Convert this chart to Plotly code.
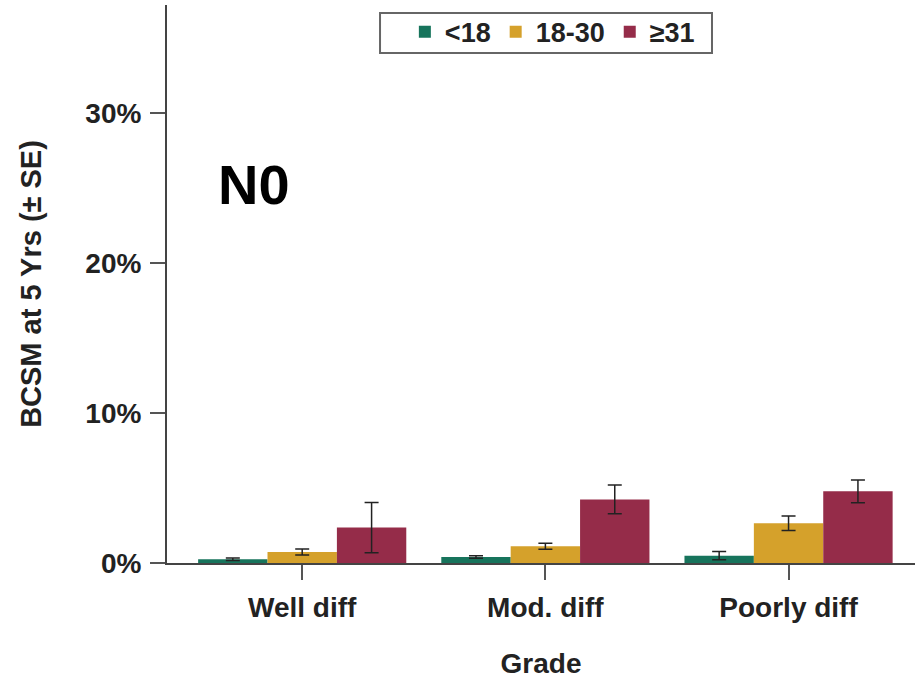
import plotly.graph_objects as go

# Breast-cancer-specific mortality at 5 years, node-negative (N0), by grade and age group
grades = ["Well diff", "Mod. diff", "Poorly diff"]
groups = ["&lt;18", "18-30", "≥31"]
colors = ["#17745c", "#d5a12b", "#952c49"]

bcsm_lt18 = [0.25, 0.40, 0.49]
bcsm_18_30 = [0.74, 1.11, 2.65]
bcsm_ge31 = [2.36, 4.24, 4.78]

se_lt18 = [0.08, 0.09, 0.27]
se_18_30 = [0.20, 0.20, 0.48]
se_ge31 = [1.67, 0.96, 0.76]

values = [bcsm_lt18, bcsm_18_30, bcsm_ge31]
errors = [se_lt18, se_18_30, se_ge31]

FONT = "Liberation Sans, Arial, sans-serif"
INK = "#222222"

fig = go.Figure()
for name, col, vals, errs in zip(groups, colors, values, errors):
    fig.add_trace(go.Bar(
        x=grades, y=vals, name=name,
        marker=dict(color=col, line=dict(width=0)),
        error_y=dict(type="data", array=errs, visible=True,
                     color=INK, thickness=1.5, width=7),
    ))

fig.update_layout(
    width=915, height=681,
    margin=dict(l=167, r=0, t=5, b=118),
    paper_bgcolor="white", plot_bgcolor="white",
    barmode="group", bargap=0.144, bargroupgap=0,
    font=dict(family=FONT, color=INK, weight="bold"),
    showlegend=True,
    legend=dict(
        orientation="h", x=0.318, y=0.995, xanchor="left", yanchor="top",
        borderwidth=0, bgcolor="rgba(0,0,0,0)",
        font=dict(size=27, family=FONT, color=INK, weight="bold"),
        itemwidth=30, traceorder="normal",
    ),
    xaxis=dict(
        range=[-0.556, 2.52],
        showline=True, linecolor="#444444", linewidth=2,
        ticks="outside", ticklen=15, tickwidth=2, tickcolor="#555555",
        ticklabelstandoff=3,
        tickfont=dict(size=28, family=FONT, color=INK, weight="bold"),
        title=dict(text="Grade", standoff=32,
                   font=dict(size=28, family=FONT, color=INK, weight="bold")),
        showgrid=False, zeroline=False,
    ),
    yaxis=dict(
        range=[0, 37.2],
        tickvals=[0, 10, 20, 30], ticktext=["0%", "10%", "20%", "30%"],
        showline=True, linecolor="#444444", linewidth=2,
        ticks="outside", ticklen=15, tickwidth=1.5, tickcolor="#555555",
        ticklabelstandoff=3,
        tickfont=dict(size=28, family=FONT, color=INK, weight="bold"),
        title=dict(text="BCSM at 5 Yrs (± SE)", standoff=35,
                   font=dict(size=29, family=FONT, color=INK, weight="bold")),
        showgrid=False, zeroline=False,
    ),
    shapes=[dict(
        type="rect", xref="paper", yref="paper",
        x0=0.2848, x1=0.7286, y0=0.914, y1=0.9857,
        line=dict(color="#666666", width=2), fillcolor="rgba(0,0,0,0)",
        layer="below",
    )],
)

fig.add_annotation(
    text="N0", xref="paper", yref="paper", x=0.065, y=0.679,
    xanchor="left", yanchor="middle", showarrow=False,
    font=dict(size=56, family=FONT, color="black", weight="bold"),
)

fig.write_html("out.html")
